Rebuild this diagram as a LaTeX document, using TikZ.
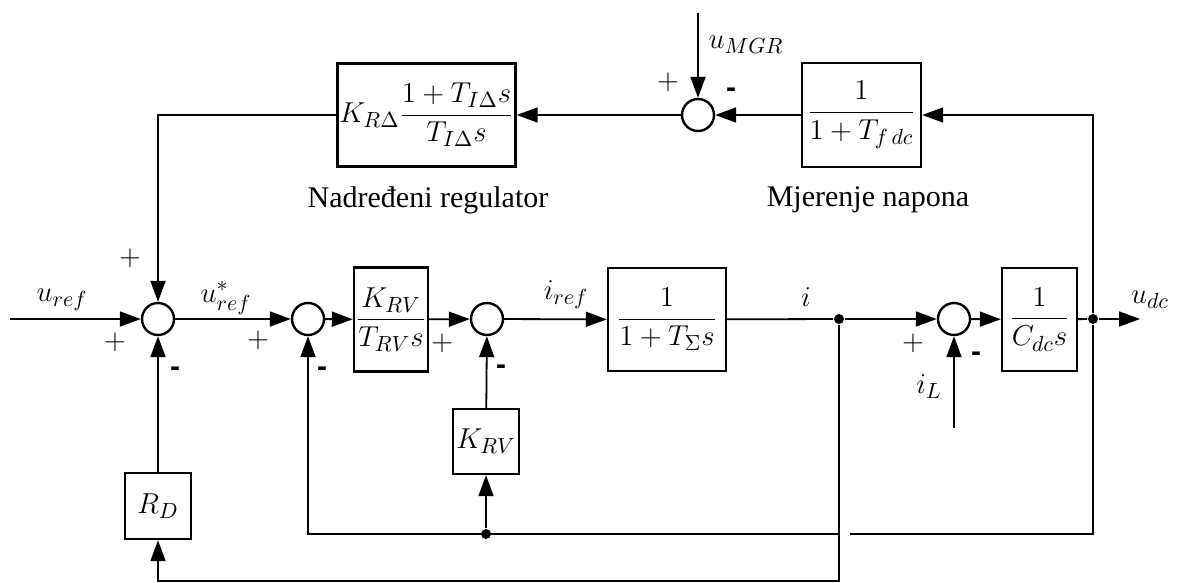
\documentclass[tikz,border=0pt]{standalone}
\usepackage{fontspec}
\setmainfont{Liberation Serif}
\newfontfamily\signfont{Liberation Sans}
\usetikzlibrary{arrows.meta}
\begin{document}
\begin{tikzpicture}[x=0.5pt,y=-0.5pt,line width=0.9pt,
  blk/.style={draw,line width=1.2pt,inner sep=1pt,font=\fontsize{15}{17}\selectfont},
  sumn/.style={circle,draw,line width=1.2pt,minimum size=16pt,inner sep=0pt},
  dotn/.style={circle,fill,inner sep=0pt,minimum size=5pt},
  arr/.style={-{Triangle[length=10.5pt,width=7.5pt]}},
  lbl/.style={inner sep=0pt,font=\fontsize{15}{17}\selectfont},
  sgn/.style={inner sep=0pt,font=\fontsize{15}{17}\selectfont},
  mns/.style={inner sep=0pt,font=\signfont\bfseries\fontsize{15}{17}\selectfont},
  captxt/.style={inner sep=0pt,font=\fontsize{15}{17}\selectfont}]
\useasboundingbox (0,0) rectangle (1177,583);
% blocks
\node[blk,minimum width=85.5pt,minimum height=51.5pt] (KRD) at (426.5,115) {$\displaystyle K_{R\Delta}\frac{1+T_{I\Delta}s}{T_{I\Delta}s}$};
\node[blk,minimum width=59.5pt,minimum height=52pt] (Tf) at (861.5,115) {$\displaystyle\frac{1}{1+T_{f\,dc}}$};
\node[blk,minimum width=36pt,minimum height=52pt] (KRV1) at (391,319.5) {$\displaystyle\frac{K_{RV}}{T_{RV}s}$};
\node[blk,minimum width=59pt,minimum height=51.5pt] (TS) at (667,319.5) {$\displaystyle\frac{1}{1+T_{\Sigma}s}$};
\node[blk,minimum width=37.5pt,minimum height=51.5pt] (Cdc) at (1039.5,319.5) {$\displaystyle\frac{1}{C_{dc}s}$};
\node[blk,minimum width=33pt,minimum height=33pt] (RD) at (158,506) {$R_D$};
\node[blk,minimum width=33pt,minimum height=32.5pt] (KRV2) at (486,441.5) {$K_{RV}$};
% summing junctions
\node[sumn] (sT) at (698,115) {};
\node[sumn] (s1) at (158,319) {};
\node[sumn] (s2) at (308,319) {};
\node[sumn] (s3) at (487,319) {};
\node[sumn] (s4) at (954,319) {};
% dots
\node[dotn] (di) at (839,319) {};
\node[dotn] (du) at (1093,319) {};
\node[dotn] (bd) at (486,534) {};
% coordinates
\coordinate (in) at (10,319);
\coordinate (out) at (1140,319);
\coordinate (uM) at (698,13);
\coordinate (iLs) at (954,428);
\coordinate (cb) at (158,581);
\coordinate (gR) at (850,534);
\coordinate (gL) at (839,534);
% forward path
\draw[arr] (in) -- (s1);
\draw[arr] (s1) -- (s2);
\draw[arr] (s2) -- (KRV1);
\draw[arr] (KRV1) -- (s3);
\draw[arr] (s3) -- (TS);
\draw (TS) -- (di);
\draw[arr] (di) -- (s4);
\draw[arr] (s4) -- (Cdc);
\draw (Cdc) -- (du);
\draw[arr] (du) -- (out);
% outer loop
\draw[arr] (du) |- (Tf.east);
\draw[arr] (Tf) -- (sT);
\draw[arr] (sT) -- (KRD);
\draw[arr] (KRD.west) -| (s1.north);
\draw[arr] (uM) -- (sT);
\draw[arr] (iLs) -- (s4);
% droop loop
\draw[arr] (di) |- (cb) -- (RD);
\draw[arr] (RD) -- (s1);
% voltage feedback
\draw (du) |- (gR);
\draw[arr] (gL) -| (s2);
\draw[arr] (bd) -- (KRV2);
\draw[arr] (KRV2) -- (s3);
% labels
\node[lbl] (Luref) at (62,300) {$u_{ref}$};
\node[lbl] (Lustar) at (226,298) {$u^{*}_{ref}$};
\node[lbl] (Liref) at (566,295) {$i_{ref}$};
\node[lbl] (Li) at (806,297) {$i$};
\node[lbl] (LiL) at (929,387) {$i_L$};
\node[lbl] (Ludc) at (1150,300) {$u_{dc}$};
\node[lbl] (LuM) at (746,45) {$u_{MGR}$};
\node[sgn] (p1) at (130,258) {$+$};
\node[sgn] (p2) at (115,342) {$+$};
\node[mns] (m1) at (175,372) {-};
\node[sgn] (p3) at (258,340) {$+$};
\node[mns] (m2) at (322,372) {-};
\node[sgn] (p4) at (442,343) {$+$};
\node[mns] (m3) at (501,370) {-};
\node[sgn] (p5) at (913,343) {$+$};
\node[mns] (m4) at (976,357) {-};
\node[sgn] (p6) at (668,82) {$+$};
\node[mns] (m5) at (731,93) {-};
\node[captxt] (c1) at (428,200) {Nadređeni regulator};
\node[captxt] (c2) at (868,200) {Mjerenje napona};
\end{tikzpicture}
\end{document}
